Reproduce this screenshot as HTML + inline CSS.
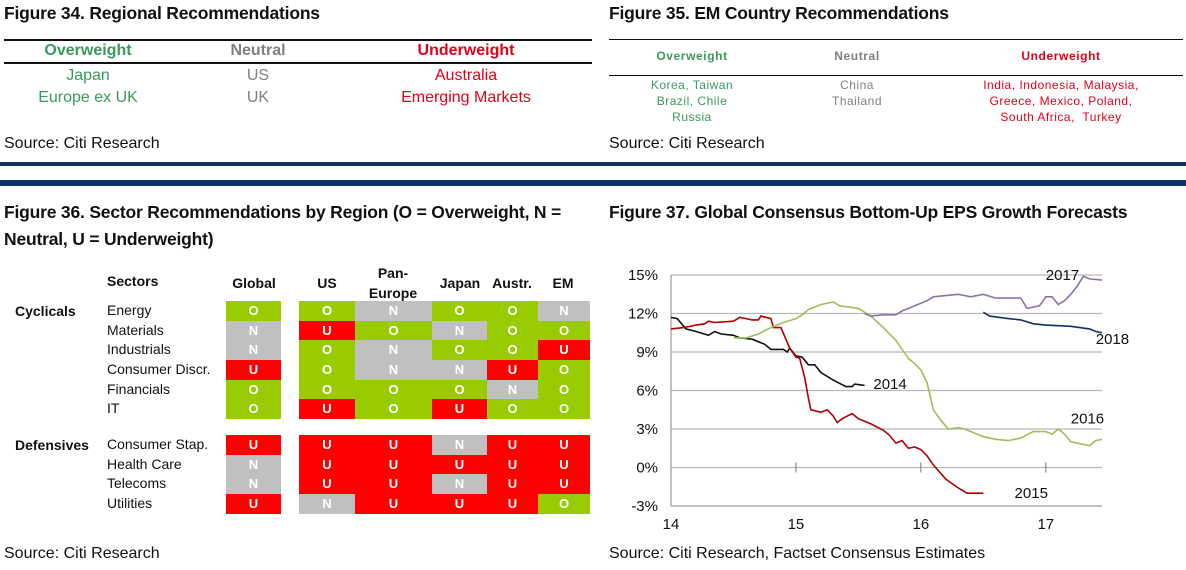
<!DOCTYPE html>
<html><head><meta charset="utf-8">
<style>
body{margin:0;width:1186px;height:570px;background:#fff;font-family:"Liberation Sans",Arial,sans-serif;position:relative;overflow:hidden}
.a{position:absolute;white-space:nowrap}
.t{font-weight:bold;font-size:17.5px;color:#111}
.src{font-size:16px;color:#111}
.g{color:#3a9a5b}.n{color:#808080}.r{color:#e3001b}
.cc{position:absolute;width:300px;text-align:center;white-space:nowrap}
.c{position:absolute;color:#fff;font-weight:bold;font-size:13px;text-align:center;line-height:20px;height:20px}
.O{background:#99cc00}.N{background:#c0c0c0}.U{background:#ff0000}
.lb{font-size:14px;color:#111}
</style></head><body>
<div class="a t" style="left:4px;top:3px;letter-spacing:-0.2px">Figure 34. Regional Recommendations</div>
<div class="a" style="left:4px;top:39px;width:588px;height:2px;background:#111"></div>
<div class="a" style="left:4px;top:62px;width:588px;height:2px;background:#111"></div>
<div class="cc g" style="left:-62px;top:42px;font-size:16px;font-weight:bold">Overweight</div>
<div class="cc n" style="left:108px;top:42px;font-size:16px;font-weight:bold">Neutral</div>
<div class="cc r" style="left:316px;top:42px;font-size:16px;font-weight:bold">Underweight</div>
<div class="cc g" style="left:-62px;top:65px;font-size:16px;line-height:22px">Japan<br>Europe ex UK</div>
<div class="cc n" style="left:108px;top:65px;font-size:16px;line-height:22px">US<br>UK</div>
<div class="cc r" style="left:316px;top:65px;font-size:16px;line-height:22px">Australia<br>Emerging Markets</div>
<div class="a src" style="left:4px;top:135px">Source: Citi Research</div>

<div class="a t" style="left:609px;top:3px;letter-spacing:-0.2px">Figure 35. EM Country Recommendations</div>
<div class="a" style="left:609px;top:39px;width:574px;height:1px;background:#111"></div>
<div class="a" style="left:609px;top:75px;width:574px;height:1px;background:#111"></div>
<div class="cc g" style="left:542px;top:49px;font-size:12px;font-weight:bold;letter-spacing:.6px">Overweight</div>
<div class="cc n" style="left:707px;top:49px;font-size:12px;font-weight:bold;letter-spacing:.6px">Neutral</div>
<div class="cc r" style="left:911px;top:49px;font-size:12px;font-weight:bold;letter-spacing:.6px">Underweight</div>
<div class="cc g" style="left:542px;top:77px;font-size:12px;letter-spacing:.5px;line-height:16px">Korea, Taiwan<br>Brazil, Chile<br>Russia</div>
<div class="cc n" style="left:707px;top:77px;font-size:12px;letter-spacing:.5px;line-height:16px">China<br>Thailand</div>
<div class="cc r" style="left:911px;top:77px;font-size:12px;letter-spacing:.5px;line-height:16px">India, Indonesia, Malaysia,<br>Greece, Mexico, Poland,<br>South Africa,&nbsp; Turkey</div>
<div class="a src" style="left:609px;top:135px">Source: Citi Research</div>

<div class="a" style="left:0;top:162px;width:1186px;height:4px;background:#10305e"></div>
<div class="a" style="left:0;top:180px;width:1186px;height:6px;background:#10305e"></div>

<div class="a t" style="left:4px;top:199px;line-height:27px;letter-spacing:-0.2px">Figure 36. Sector Recommendations by Region (O = Overweight, N =<br>Neutral, U = Underweight)</div>
<div class="a t" style="left:609px;top:199px;line-height:27px;letter-spacing:-0.2px">Figure 37. Global Consensus Bottom-Up EPS Growth Forecasts</div>

<div id="tbl"></div>
<div class="a src" style="left:4px;top:545px">Source: Citi Research</div>

<svg class="a" style="left:0;top:0" width="1186" height="570" id="chart"></svg>
<div class="a src" style="left:609px;top:545px">Source: Citi Research, Factset Consensus Estimates</div>

<script>
// ---- table ----
const sectors=["Energy","Materials","Industrials","Consumer Discr.","Financials","IT","Consumer Stap.","Health Care","Telecoms","Utilities"];
const regions=["Global","US","Pan-Europe","Japan","Austr.","EM"];
const recs=["OONOON","NUONOO","NONOOU","UONNUO","OOOONO","OUOUOO","UUUNUU","NUUUUU","NUUNUU","UNUUUO"];
const tbl=document.getElementById('tbl');
const colX=[226,299,355,432,487,538],colW=[55,56,77,55,51,52];
const rowY=[301,321,340,360,380,399,435,455,474,494];
function add(html,cls,st){const d=document.createElement('div');d.className=cls;d.style.cssText=st;d.innerHTML=html;tbl.appendChild(d);return d;}
let e;
e=add("Sectors","a lb","left:107px;top:273px;font-weight:bold");


const hdrX=[254,327,393,460,512,563];
regions.forEach((r,i)=>{const h=r==="Pan-Europe"?"Pan-<br>Europe":r;
 const d=add(h,"a lb",`left:${hdrX[i]}px;top:${i==2?263:273}px;font-weight:bold;text-align:center;line-height:20px;transform:translateX(-50%)`);
 
 });
e=add("Cyclicals","a lb","left:15px;top:303px;font-weight:bold");


e=add("Defensives","a lb","left:15px;top:437px;font-weight:bold");


sectors.forEach((s,ri)=>{
 const l=add(s,"a lb",`left:107px;top:${rowY[ri]+1}px`);
 
 
 for(let ci=0;ci<6;ci++){const v=recs[ri][ci];
  const c=add(v,"c "+v,`left:${colX[ci]}px;top:${rowY[ri]}px;width:${colW[ci]}px;height:${(rowY[ri+1]&&rowY[ri+1]-rowY[ri]<25?rowY[ri+1]-rowY[ri]:20)}px`);
  
  }
});

// ---- chart ----
const yTicks=[-3,0,3,6,9,12,15];
const xTicks=[14,15,16,17];
const s2014=[[14.0,11.7],[14.05,11.6],[14.12,10.8],[14.2,10.6],[14.3,10.3],[14.35,10.6],[14.4,10.4],[14.5,10.3],[14.55,10.1],[14.65,10.0],[14.75,9.6],[14.8,9.2],[14.9,9.2],[14.93,9.0],[14.95,9.3],[15.0,8.7],[15.05,8.6],[15.1,8.0],[15.15,8.0],[15.2,7.4],[15.3,6.8],[15.4,6.3],[15.45,6.3],[15.47,6.5],[15.55,6.4]];
const s2015=[[14.0,10.8],[14.1,10.9],[14.2,11.1],[14.27,11.2],[14.3,11.4],[14.35,11.3],[14.5,11.4],[14.55,11.7],[14.6,11.6],[14.65,11.5],[14.7,11.5],[14.72,11.8],[14.8,11.6],[14.82,10.9],[14.88,10.9],[14.95,9.3],[15.0,8.6],[15.03,8.5],[15.07,7.0],[15.1,5.4],[15.12,4.5],[15.2,4.3],[15.25,4.5],[15.3,4.0],[15.33,3.5],[15.37,3.8],[15.45,4.2],[15.5,3.8],[15.6,3.4],[15.7,2.9],[15.75,2.5],[15.8,1.9],[15.85,2.1],[15.9,1.5],[15.95,1.6],[16.0,1.4],[16.05,0.9],[16.1,0.2],[16.2,-0.9],[16.3,-1.6],[16.37,-2.0],[16.5,-2.0]];
const s2016=[[14.5,10.1],[14.6,10.1],[14.7,10.4],[14.8,10.9],[14.9,11.3],[15.0,11.6],[15.05,11.9],[15.1,12.3],[15.2,12.7],[15.3,12.9],[15.35,12.6],[15.5,12.4],[15.6,11.8],[15.7,10.9],[15.8,9.9],[15.85,9.2],[15.9,8.5],[15.95,8.1],[16.0,7.6],[16.05,6.6],[16.1,4.5],[16.15,3.8],[16.22,3.0],[16.3,3.1],[16.35,3.0],[16.45,2.6],[16.5,2.4],[16.6,2.2],[16.7,2.1],[16.8,2.3],[16.9,2.8],[17.0,2.8],[17.05,2.6],[17.1,3.0],[17.15,2.6],[17.2,2.0],[17.3,1.8],[17.35,1.7],[17.4,2.1],[17.45,2.2]];
const s2017=[[15.55,12.0],[15.6,11.8],[15.7,11.9],[15.8,11.9],[15.85,12.2],[15.9,12.4],[16.0,12.8],[16.05,13.0],[16.1,13.3],[16.3,13.5],[16.4,13.3],[16.5,13.5],[16.6,13.2],[16.7,13.2],[16.8,13.2],[16.85,12.4],[16.95,12.6],[17.0,13.3],[17.05,13.3],[17.1,12.7],[17.15,13.0],[17.2,13.5],[17.25,14.1],[17.3,14.9],[17.35,14.7],[17.45,14.6]];
const s2018=[[16.5,12.1],[16.55,11.8],[16.7,11.6],[16.8,11.5],[16.9,11.2],[17.0,11.1],[17.2,11.0],[17.35,10.8],[17.4,10.6],[17.45,10.5]];
const seriesNames=["2014","2015","2016","2017","2018"];
const seriesColors=["#111","#b00000","#9fbf5a","#8b72ad","#13306a"];
const labelPos=[[15.62,6.5],[16.75,-2.0],[17.2,3.8],[17.0,15.0],[17.4,10.0]];
const X0=671,X1=1102,Y0=506,Y1=275,xMin=14,xMax=17.45,yMin=-3,yMax=15;
const xs=v=>X0+(v-xMin)/(xMax-xMin)*(X1-X0);
const ys=v=>Y0-(v-yMin)/(yMax-yMin)*(Y0-Y1);
const svg=document.getElementById('chart');const NS="http://www.w3.org/2000/svg";
function mk(t,a){const el=document.createElementNS(NS,t);for(const k in a)el.setAttribute(k,a[k]);svg.appendChild(el);return el;}
yTicks.forEach(v=>{
 if(v>yMin){const g=mk('line',{x1:X0,x2:X1,y1:ys(v),y2:ys(v),stroke:'#b8b8b8','stroke-width':1.2});
 
 }
 const t=mk('text',{x:X0-13,y:ys(v)+5,'text-anchor':'end','font-size':15,fill:'#111','font-family':'Liberation Sans'});t.textContent=v+"%";
 
 
});
let ax=mk('line',{x1:X0,x2:X0,y1:Y1,y2:Y0,stroke:'#999','stroke-width':1.2});


ax=mk('line',{x1:X0,x2:X1,y1:Y0,y2:Y0,stroke:'#999','stroke-width':1.2});


xTicks.forEach(v=>{
 if(v>xMin){const k=mk('line',{x1:xs(v),x2:xs(v),y1:ys(0)-5,y2:ys(0)+5,stroke:'#888','stroke-width':1.2});
 
 }
 const t=mk('text',{x:xs(v),y:529,'text-anchor':'middle','font-size':15,fill:'#111','font-family':'Liberation Sans'});t.textContent=v;
 
 
});
[s2014,s2015,s2016,s2017,s2018].forEach((s,i)=>{
 const p=mk('polyline',{points:s.map(d=>xs(d[0]).toFixed(1)+","+ys(d[1]).toFixed(1)).join(" "),fill:'none',stroke:seriesColors[i],'stroke-width':1.6});
 
 
 const t=mk('text',{x:xs(labelPos[i][0]),y:ys(labelPos[i][1])+5,'font-size':15,fill:'#111','font-family':'Liberation Sans'});t.textContent=seriesNames[i];
 
 
});
</script>
</body></html>
